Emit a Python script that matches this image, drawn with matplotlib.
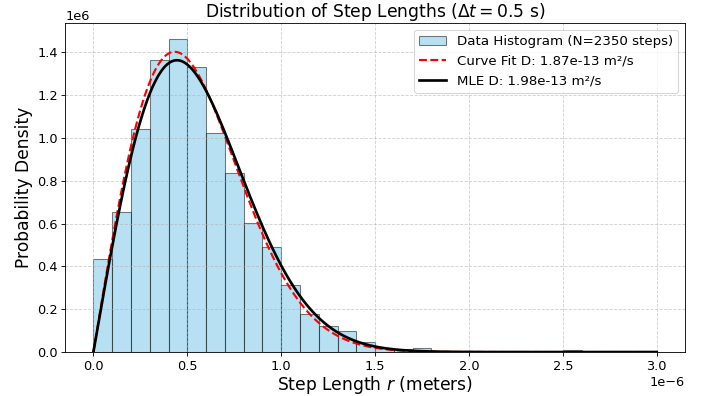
import matplotlib.pyplot as plt
import numpy as np
from matplotlib.colors import to_rgba

# histogram of step lengths (density), bin width 0.1 um
bin_edges = np.round(np.arange(0, 3.01, 0.1), 2) * 1e-6
density = np.array([0.434, 0.655, 1.043, 1.366, 1.464, 1.333, 1.024, 0.836, 0.605, 0.492,
                    0.312, 0.180, 0.121, 0.097, 0.045, 0.020, 0.013, 0.017, 0.004, 0.0,
                    0.004, 0.0, 0.004, 0.0, 0.0, 0.009, 0.0, 0.004, 0.0, 0.004]) * 1e6

n_steps = 2350
dt = 0.5
D_fit = 1.87e-13
D_mle = 1.98e-13


def rayleigh_2d(r, D, dt):
    # step length pdf for 2D diffusion
    return r / (2 * D * dt) * np.exp(-r**2 / (4 * D * dt))


dpi = 77
fig, ax = plt.subplots(figsize=(709 / dpi, 396 / dpi), dpi=dpi)
fig.subplots_adjust(left=0.092, right=0.966, top=0.942, bottom=0.111)

bars = ax.bar(bin_edges[:-1], density, width=np.diff(bin_edges), align='edge',
              facecolor=to_rgba('skyblue', 0.6), edgecolor=(0, 0, 0, 0.5), linewidth=1.0,
              label=f'Data Histogram (N={n_steps} steps)')

r = np.linspace(0, bin_edges[-1], 400)
l1, = ax.plot(r, rayleigh_2d(r, D_fit, dt), 'r--', lw=2, label=f'Curve Fit D: {D_fit:.2e} m²/s')
l2, = ax.plot(r, rayleigh_2d(r, D_mle, dt), 'k-', lw=2.5, label=f'MLE D: {D_mle:.2e} m²/s')

ax.set_title(r'Distribution of Step Lengths ($\Delta t = 0.5$ s)', fontsize=16)
ax.set_xlabel(r'Step Length $r$ (meters)', fontsize=16, labelpad=1.5)
ax.set_ylabel('Probability Density', fontsize=16)
ax.tick_params(labelsize=12)
ax.xaxis.get_offset_text().set_fontsize(12)
ax.yaxis.get_offset_text().set_fontsize(12)
ax.grid(True, linestyle='--', alpha=0.6)
ax.legend(handles=[bars, l1, l2], fontsize=12.5, loc='upper right')

plt.savefig('out.png', dpi=dpi)
